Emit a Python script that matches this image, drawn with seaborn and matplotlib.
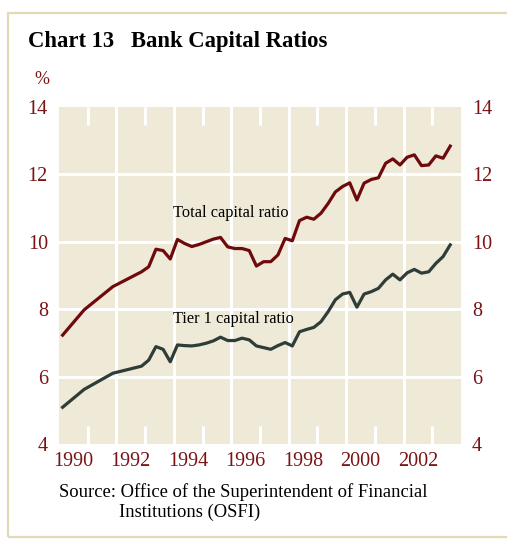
import pandas as pd
import matplotlib.pyplot as plt
import matplotlib.patches as mpatches
import seaborn as sns

# quarters with data (early years are annual, then quarterly)
quarters = ["1990Q1", "1990Q4", "1991Q4"] + [str(p) for p in pd.period_range("1992Q4", "2003Q3", freq="Q")]

total_ratio = [7.23, 7.98, 8.67,
               9.11, 9.26, 9.78, 9.74, 9.49, 10.07, 9.95, 9.86, 9.92,
               10.00, 10.08, 10.13, 9.85, 9.80, 9.80, 9.74, 9.28,
               9.41, 9.41, 9.61, 10.10, 10.03, 10.63, 10.73, 10.67,
               10.85, 11.14, 11.48, 11.64, 11.75, 11.24, 11.74, 11.85,
               11.90, 12.33, 12.46, 12.28, 12.51, 12.58, 12.26, 12.28,
               12.55, 12.48, 12.84]

tier1_ratio = [5.09, 5.62, 6.10,
               6.31, 6.49, 6.89, 6.81, 6.44, 6.94, 6.92, 6.91, 6.94,
               6.99, 7.06, 7.17, 7.07, 7.07, 7.14, 7.09, 6.91,
               6.86, 6.81, 6.92, 7.01, 6.91, 7.33, 7.40, 7.46,
               7.63, 7.93, 8.28, 8.45, 8.50, 8.06, 8.45, 8.52,
               8.62, 8.87, 9.04, 8.87, 9.08, 9.18, 9.07, 9.11,
               9.36, 9.56, 9.91]

year_labels = [1990, 1992, 1994, 1996, 1998, 2000, 2002]
y_ticks = [4, 6, 8, 10, 12, 14]

# decimal year at middle of each quarter
per = pd.PeriodIndex(quarters, freq="Q")
dec_year = per.year + (per.quarter - 1) / 4 + 0.125
df = pd.DataFrame({"year": dec_year, "total": total_ratio, "tier1": tier1_ratio})

red = "#6e0a0c"
dark = "#2e3d38"
label_red = "#7a1416"
bg = "#efe9d8"

plt.rcParams["font.family"] = ["Liberation Serif", "DejaVu Serif"]

fig = plt.figure(figsize=(5.07, 5.39), dpi=100)
ax = fig.add_axes([59 / 507, 95 / 539, 402 / 507, 337 / 539])
ax.set_facecolor(bg)

# white grid
for y in y_ticks[1:-1]:
    ax.axhline(y, color="white", lw=2.2, zorder=1)
for yr in range(1992, 2003, 2):
    ax.axvline(yr, color="white", lw=2.2, zorder=1)

sns.lineplot(data=df, x="year", y="total", ax=ax, color=red, lw=2.3, zorder=3)
sns.lineplot(data=df, x="year", y="tier1", ax=ax, color=dark, lw=2.3, zorder=3)

ax.set_xlim(1990, 2004)
ax.set_ylim(4, 14)
ax.set_xlabel("")
ax.set_ylabel("")
for s in ax.spines.values():
    s.set_visible(False)

# year labels centred in each year
ax.set_xticks([y + 0.5 for y in year_labels])
ax.set_xticklabels([str(y) for y in year_labels])
ax.set_xticks(list(range(1991, 2004)), minor=True)
ax.tick_params(axis="x", which="major", length=0, pad=6, labelsize=14.5, labelcolor=label_red)
ax.tick_params(axis="x", which="minor", direction="in", length=13, width=2.2,
               color="white", top=True, bottom=True)

ax.set_yticks(y_ticks)
ax.tick_params(axis="y", length=0, pad=8, labelsize=14.5, labelcolor=label_red,
               left=False, right=False, labelleft=True, labelright=True)

ax.text(1993.97, 10.85, "Total capital ratio", fontsize=11.8, color="black", va="center", ha="left")
ax.text(1993.97, 7.71, "Tier 1 capital ratio", fontsize=11.8, color="black", va="center", ha="left")

fig.text(28 / 507, 1 - 42 / 539, "Chart 13   Bank Capital Ratios", fontsize=16.3,
         weight="bold", va="center", ha="left")
fig.text(42 / 507, 1 - 80 / 539, "%", fontsize=13, color=label_red, va="center", ha="center")
fig.text(59 / 507, 1 - 492 / 539, "Source: Office of the Superintendent of Financial",
         fontsize=13.4, va="center", ha="left")
fig.text(119 / 507, 1 - 512 / 539, "Institutions (OSFI)", fontsize=13.4, va="center", ha="left")

# outer frame
fig.patches.append(mpatches.Rectangle((8 / 507, 2 / 539), 1.2, 1 - 15 / 539,
                                      transform=fig.transFigure, fill=False,
                                      edgecolor="#e2dab4", lw=1.6))

fig.savefig("out.png", dpi=100)
